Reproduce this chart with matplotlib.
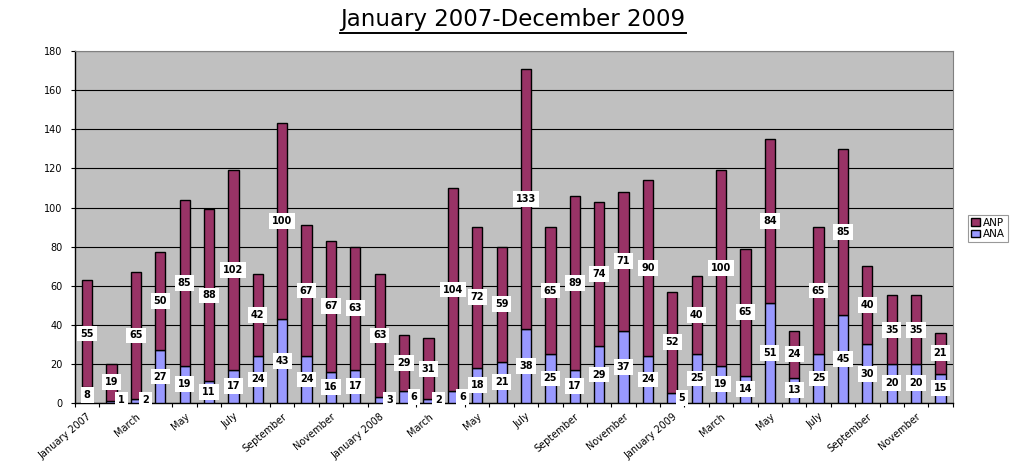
import numpy as np
import matplotlib
matplotlib.use("Agg")
import matplotlib.pyplot as plt
from matplotlib.lines import Line2D
from matplotlib.patches import Patch

# ── Data ─────────────────────────────────────────────────────────
months = ["January 2007", "February", "March", "April", "May", "June",
          "July", "August", "September", "October", "November", "December",
          "January 2008", "February", "March", "April", "May", "June",
          "July", "August", "September", "October", "November", "December",
          "January 2009", "February", "March", "April", "May", "June",
          "July", "August", "September", "October", "November", "December"]
ana = [8, 1, 2, 27, 19, 11, 17, 24, 43, 24, 16, 17,
       3, 6, 2, 6, 18, 21, 38, 25, 17, 29, 37, 24,
       5, 25, 19, 14, 51, 13, 25, 45, 30, 20, 20, 15]
anp = [55, 19, 65, 50, 85, 88, 102, 42, 100, 67, 67, 63,
       63, 29, 31, 104, 72, 59, 133, 65, 89, 74, 71, 90,
       52, 40, 100, 65, 84, 24, 65, 85, 40, 35, 35, 21]

C_ANP = "#993366"
C_ANA = "#9999FF"
C_BG = "#C0C0C0"

fig = plt.figure(figsize=(10.2, 4.61), dpi=100)
fig.patch.set_facecolor("white")
ax = fig.add_axes([0.0735, 0.126, 0.8605, 0.763])
ax.set_facecolor(C_BG)

x = np.arange(len(months))
w = 0.42
ax.bar(x, ana, w, color=C_ANA, edgecolor="black", lw=1.0, zorder=3)
ax.bar(x, anp, w, bottom=ana, color=C_ANP, edgecolor="black", lw=1.0, zorder=3)

# white-boxed value labels; tiny ANA values get nudged off the bar (Excel style)
box = dict(boxstyle="square,pad=0.3", fc="white", ec="none")
for i in x:
    dx = 0.4 if ana[i] <= 6 else 0.0
    ax.text(i + dx, max(ana[i] / 2, 1.5), str(ana[i]), ha="center",
            va="center", fontsize=7, fontweight="bold", bbox=box, zorder=5)
    ax.text(i, ana[i] + anp[i] / 2, str(anp[i]), ha="center", va="center",
            fontsize=7, fontweight="bold", bbox=box, zorder=5)

ax.set_xlim(-0.5, len(months) - 0.5)
ax.set_ylim(0, 180)
ax.set_yticks(range(0, 181, 20))
ax.yaxis.grid(True, color="black", lw=0.8, zorder=1)
ax.set_axisbelow(True)
ax.tick_params(axis="y", labelsize=7, length=3, width=0.8, pad=6)

ax.set_xticks(x[::2])
ax.set_xticklabels(months[::2], rotation=40, ha="right",
                   rotation_mode="anchor", fontsize=7)
ax.set_xticks(np.arange(-0.5, len(months), 1), minor=True)
ax.tick_params(axis="x", which="major", length=0, pad=6)
ax.tick_params(axis="x", which="minor", length=3, width=0.8)

for s in ["top", "right"]:
    ax.spines[s].set_color("#808080")
ax.spines["left"].set_linewidth(1.0)
ax.spines["bottom"].set_linewidth(1.0)

handles = [Patch(fc=C_ANP, ec="black", label="ANP"),
           Patch(fc=C_ANA, ec="black", label="ANA")]
leg = fig.legend(handles=handles, loc="upper left",
                 bbox_to_anchor=(0.944, 0.545), fontsize=7.5, frameon=True,
                 fancybox=False, handlelength=0.8, handleheight=0.8,
                 handletextpad=0.3, borderpad=0.3, labelspacing=0.1)
leg.get_frame().set_edgecolor("#808080")
leg.get_frame().set_linewidth(0.8)

t = fig.text(0.503, 0.958, "January 2007-December 2009", ha="center",
             va="center", fontsize=16.5, family="DejaVu Sans")
fig.canvas.draw()
bb = t.get_window_extent().transformed(fig.transFigure.inverted())
fig.add_artist(Line2D([bb.x0, bb.x1], [bb.y0 - 0.004, bb.y0 - 0.004],
                      color="black", lw=1.4, transform=fig.transFigure))

fig.savefig("out.png", dpi=100, facecolor="white")
